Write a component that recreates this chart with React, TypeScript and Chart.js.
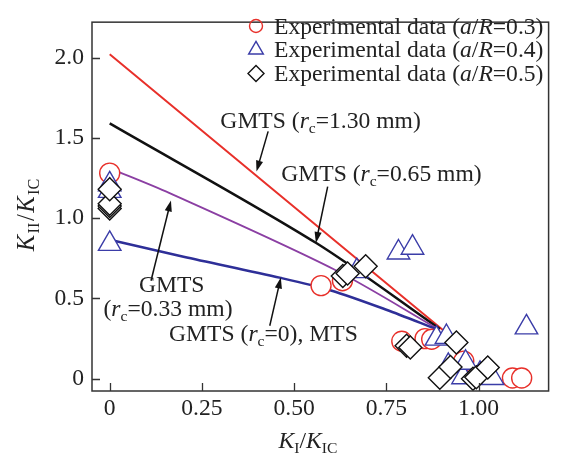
import React, { useEffect, useRef } from "react";
import { Chart, registerables } from "chart.js";
Chart.register(...registerables);

// ---- ticks ----
const xTicks = [0, 0.25, 0.5, 0.75, 1.0];
const xTickLabels = ["0", "0.25", "0.50", "0.75", "1.00"];
const yTicks = [0, 0.5, 1.0, 1.5, 2.0];
const yTickLabels = ["0", "0.5", "1.0", "1.5", "2.0"];

// ---- GMTS curves ----
const rc130X = [0, 0.905];
const rc130Y = [2.02, 0.3];
const rc065X = [0, 0.56, 0.895];
const rc065Y = [1.59, 0.845, 0.31];
const rc033X = [0, 0.161, 0.609, 0.89];
const rc033Y = [1.31, 1.157, 0.68, 0.31];
const mtsX = [0, 0.2, 0.464, 0.6, 0.75, 0.885];
const mtsY = [0.865, 0.76, 0.628, 0.55, 0.43, 0.31];

// ---- experimental data ----
const r03X = [0, 0.573, 0.631, 0.792, 0.855, 0.873, 0.96, 1.092, 1.117];
const r03Y = [1.28, 0.58, 0.61, 0.234, 0.25, 0.246, 0.11, 0.005, 0.005];
const r04X = [0, 0, 0, 0.67, 0.783, 0.821, 0.886, 0.913, 0.918, 0.958, 0.965, 1.004, 1.038, 1.13];
const r04Y = [1.21, 1.17, 0.84, 0.67, 0.786, 0.816, 0.25, 0.26, 0.08, 0.01, 0.1, 0.03, 0.005, 0.32];
const r05X = [0, 0, 0, 0, 0.632, 0.645, 0.694, 0.805, 0.815, 0.94, 0.895, 0.924, 0.985, 0.994, 1.025];
const r05Y = [1.06, 1.075, 1.09, 1.18, 0.64, 0.655, 0.7, 0.205, 0.195, 0.226, 0.006, 0.074, 0.0, 0.01, 0.07];

// ---- annotation anchors (data units) ----
const arrowFromX = [0.4296, 0.591, 0.112, 0.434];
const arrowFromY = [1.54, 1.196, 0.61, 0.33];
const arrowToX = [0.398, 0.559, 0.166, 0.464];
const arrowToY = [1.29, 0.846, 1.11, 0.63];

const legendLabels = ["0.3", "0.4", "0.5"];

const RED = "#e8302a";
const BLUE_M = "#3b3da8";
const BLUE_L = "#2e2f98";
const PURPLE = "#8b3fa3";
const BLACK = "#111111";
const FONT = '"Liberation Serif", "Times New Roman", serif';
const FS = 23.6;

type Seg = { t: string; i?: boolean; s?: boolean };

function segFont(sg: Seg, size: number) {
  return `${sg.i ? "italic " : ""}${sg.s ? (size * 0.66).toFixed(1) : size}px ${FONT}`;
}
function richWidth(ctx: CanvasRenderingContext2D, segs: Seg[], size: number, gap: number) {
  let w = 0;
  for (const sg of segs) {
    ctx.font = segFont(sg, size);
    w += ctx.measureText(sg.t).width + gap;
  }
  return w - gap;
}
function drawRich(
  ctx: CanvasRenderingContext2D,
  segs: Seg[],
  x: number,
  y: number,
  size: number,
  align: "left" | "center",
  gap = 0
) {
  const w = richWidth(ctx, segs, size, gap);
  let cx = align === "center" ? x - w / 2 : x;
  ctx.textAlign = "left";
  ctx.textBaseline = "alphabetic";
  for (const sg of segs) {
    ctx.font = segFont(sg, size);
    ctx.fillText(sg.t, cx, sg.s ? y + size * 0.22 : y);
    cx += ctx.measureText(sg.t).width + gap;
  }
}

const rcSeg = (rest: string, pre = "GMTS ("): Seg[] => [
  { t: pre },
  { t: "r", i: true },
  { t: "c", s: true },
  { t: rest },
];

const annTexts: { segs: Seg[]; x: number; y: number; align: "left" | "center" }[] = [
  { segs: rcSeg("=1.30 mm)"), x: 0.3, y: 1.561, align: "left" },
  { segs: rcSeg("=0.65 mm)"), x: 0.465, y: 1.23, align: "left" },
  { segs: [{ t: "GMTS" }], x: 0.168, y: 0.54, align: "center" },
  { segs: rcSeg("=0.33 mm)", "("), x: 0.158, y: 0.392, align: "center" },
  { segs: rcSeg("=0), MTS"), x: 0.161, y: 0.236, align: "left" },
];

function toPts(xs: number[], ys: number[]) {
  return xs.map((x, i) => ({ x, y: ys[i] }));
}

function drawArrow(ctx: CanvasRenderingContext2D, x1: number, y1: number, x2: number, y2: number) {
  const ang = Math.atan2(y2 - y1, x2 - x1);
  const L = 11;
  const W = 3.6;
  ctx.strokeStyle = BLACK;
  ctx.fillStyle = BLACK;
  ctx.lineWidth = 1.5;
  ctx.beginPath();
  ctx.moveTo(x1, y1);
  ctx.lineTo(x2 - Math.cos(ang) * L * 0.8, y2 - Math.sin(ang) * L * 0.8);
  ctx.stroke();
  ctx.beginPath();
  ctx.moveTo(x2, y2);
  ctx.lineTo(x2 - Math.cos(ang) * L + Math.sin(ang) * W, y2 - Math.sin(ang) * L - Math.cos(ang) * W);
  ctx.lineTo(x2 - Math.cos(ang) * L - Math.sin(ang) * W, y2 - Math.sin(ang) * L + Math.cos(ang) * W);
  ctx.closePath();
  ctx.fill();
}

function legendMarker(ctx: CanvasRenderingContext2D, kind: number, x: number, y: number) {
  ctx.lineWidth = 1.4;
  ctx.beginPath();
  if (kind === 0) {
    ctx.strokeStyle = RED;
    ctx.arc(x, y, 6.5, 0, Math.PI * 2);
  } else if (kind === 1) {
    ctx.strokeStyle = BLUE_M;
    const r = 8.5;
    ctx.moveTo(x, y - r);
    ctx.lineTo(x + r * Math.sin((2 * Math.PI) / 3), y + r / 2);
    ctx.lineTo(x - r * Math.sin((2 * Math.PI) / 3), y + r / 2);
    ctx.closePath();
  } else {
    ctx.strokeStyle = BLACK;
    const r = 8;
    ctx.moveTo(x - r, y);
    ctx.lineTo(x, y - r);
    ctx.lineTo(x + r, y);
    ctx.lineTo(x, y + r);
    ctx.closePath();
  }
  ctx.stroke();
}

const decorPlugin = {
  id: "decor",
  afterDatasetsDraw(chart: any) {
    const ctx: CanvasRenderingContext2D = chart.ctx;
    const xs = chart.scales.x;
    const ys = chart.scales.y;
    ctx.save();
    for (let i = 0; i < arrowFromX.length; i++) {
      drawArrow(
        ctx,
        xs.getPixelForValue(arrowFromX[i]),
        ys.getPixelForValue(arrowFromY[i]),
        xs.getPixelForValue(arrowToX[i]),
        ys.getPixelForValue(arrowToY[i])
      );
    }
    ctx.fillStyle = "#222";
    for (const a of annTexts) {
      drawRich(ctx, a.segs, xs.getPixelForValue(a.x), ys.getPixelForValue(a.y), FS, a.align);
    }
    ctx.restore();
  },
  afterDraw(chart: any) {
    const ctx: CanvasRenderingContext2D = chart.ctx;
    const { left, right, top, bottom } = chart.chartArea;
    const xs = chart.scales.x;
    const ys = chart.scales.y;
    ctx.save();
    ctx.strokeStyle = "#333";
    ctx.lineWidth = 1.5;
    ctx.strokeRect(left, top, right - left, bottom - top);
    ctx.lineWidth = 1.3;
    ctx.beginPath();
    for (const v of xTicks) {
      const px = Math.round(xs.getPixelForValue(v)) + 0.5;
      ctx.moveTo(px, bottom);
      ctx.lineTo(px, bottom - 8);
    }
    for (const v of yTicks) {
      const py = Math.round(ys.getPixelForValue(v)) + 0.5;
      ctx.moveTo(left, py);
      ctx.lineTo(left + 8, py);
    }
    ctx.stroke();

    // legend
    for (let i = 0; i < 3; i++) {
      const y = 26 + i * 23.8;
      legendMarker(ctx, i, 256, y);
      ctx.fillStyle = "#222";
      drawRich(
        ctx,
        [
          { t: "Experimental data (" },
          { t: "a", i: true },
          { t: "/" },
          { t: "R", i: true },
          { t: "=" + legendLabels[i] + ")" },
        ],
        274,
        y + 7.5,
        FS,
        "left"
      );
    }

    // axis titles
    ctx.fillStyle = "#222";
    drawRich(
      ctx,
      [{ t: "K", i: true }, { t: "I", s: true }, { t: "/" }, { t: "K", i: true }, { t: "IC", s: true }],
      308,
      448,
      FS,
      "center"
    );
    ctx.translate(34, 215);
    ctx.rotate(-Math.PI / 2);
    drawRich(
      ctx,
      [{ t: "K", i: true }, { t: "II", s: true }, { t: "/" }, { t: "K", i: true }, { t: "IC", s: true }],
      0,
      0,
      FS + 1,
      "center",
      1.5
    );
    ctx.restore();
  },
};

export default function App() {
  const ref = useRef<HTMLCanvasElement>(null);
  useEffect(() => {
    if (!ref.current) return;
    const lineDs = (label: string, xs: number[], ys: number[], color: string, w: number, order: number) => ({
      type: "line" as const,
      label,
      data: toPts(xs, ys),
      borderColor: color,
      borderWidth: w,
      pointRadius: 0,
      showLine: true,
      fill: false,
      tension: 0.3,
      order,
    });
    const markDs = (label: string, xs: number[], ys: number[], color: string, style: string, r: number, order: number) => ({
      type: "scatter" as const,
      label,
      data: toPts(xs, ys),
      borderColor: color,
      backgroundColor: "#ffffff",
      borderWidth: 1.4,
      pointStyle: style,
      pointRadius: r,
      pointHoverRadius: r,
      showLine: false,
      order,
    });
    const chart = new Chart(ref.current, {
      type: "scatter",
      data: {
        datasets: [
          markDs("a/R=0.5", r05X, r05Y, BLACK, "rectRot", 11.5, 0),
          markDs("a/R=0.4", r04X, r04Y, BLUE_M, "triangle", 13, 1),
          markDs("a/R=0.3", r03X, r03Y, RED, "circle", 10, 2),
          lineDs("rc=0", mtsX, mtsY, BLUE_L, 2.5, 3),
          lineDs("rc=0.33", rc033X, rc033Y, PURPLE, 1.8, 4),
          lineDs("rc=0.65", rc065X, rc065Y, BLACK, 2.5, 5),
          lineDs("rc=1.30", rc130X, rc130Y, RED, 2, 6),
        ] as any,
      },
      options: {
        responsive: false,
        animation: false,
        devicePixelRatio: 1,
        layout: { padding: { left: 0, right: 10, top: 8, bottom: 0 } },
        plugins: { legend: { display: false }, tooltip: { enabled: false } },
        elements: { point: { hitRadius: 0 } },
        scales: {
          x: {
            type: "linear",
            min: -0.048,
            max: 1.19,
            grid: { display: false, drawTicks: false },
            border: { display: false },
            afterBuildTicks: (s: any) => {
              s.ticks = xTicks.map((v) => ({ value: v }));
            },
            afterFit: (s: any) => {
              s.height = 63;
            },
            ticks: {
              autoSkip: false,
              maxRotation: 0,
              padding: 4,
              color: "#222",
              font: { family: FONT, size: FS },
              callback: (_v: any, i: number) => xTickLabels[i],
            },
          },
          y: {
            type: "linear",
            min: -0.076,
            max: 2.22,
            grid: { display: false, drawTicks: false },
            border: { display: false },
            afterBuildTicks: (s: any) => {
              s.ticks = yTicks.map((v) => ({ value: v }));
            },
            afterFit: (s: any) => {
              s.width = 92;
            },
            ticks: {
              autoSkip: false,
              padding: 8,
              color: "#222",
              font: { family: FONT, size: FS },
              callback: (_v: any, i: number) => yTickLabels[i],
            },
          },
        },
      },
      plugins: [decorPlugin],
    } as any);
    return () => chart.destroy();
  }, []);
  return (
    <div style={{ position: "fixed", left: 0, top: 0, width: 563, height: 454, background: "#fff" }}>
      <canvas ref={ref} width={563} height={454} style={{ display: "block" }} />
    </div>
  );
}
